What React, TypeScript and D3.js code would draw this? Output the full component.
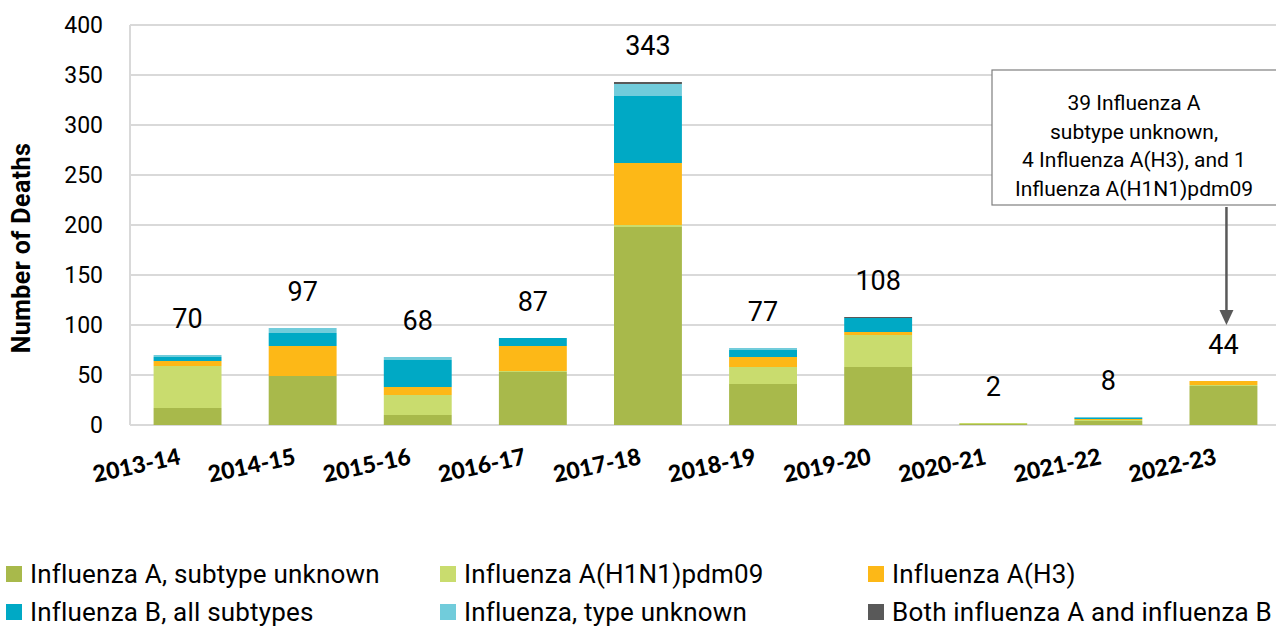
import { useEffect, useRef } from 'react';
import * as d3 from 'd3';

const seasons = ['2013-14', '2014-15', '2015-16', '2016-17', '2017-18', '2018-19', '2019-20', '2020-21', '2021-22', '2022-23'];
const aUnknown = [17, 49, 10, 53, 198, 41, 58, 1, 4, 39];
const h1n1 = [42, 0, 20, 1, 2, 17, 32, 1, 1, 1];
const h3 = [5, 30, 8, 25, 62, 10, 3, 0, 1, 4];
const fluB = [4, 13, 27, 8, 67, 7, 14, 0, 1, 0];
const typeUnknown = [2, 5, 3, 0, 12, 2, 0, 0, 1, 0];
const bothAB = [0, 0, 0, 0, 2, 0, 1, 0, 0, 0];
const totals = [70, 97, 68, 87, 343, 77, 108, 2, 8, 44];
const yTicks = [0, 50, 100, 150, 200, 250, 300, 350, 400];

const seriesNames = [
  'Influenza A, subtype unknown',
  'Influenza A(H1N1)pdm09',
  'Influenza A(H3)',
  'Influenza B, all subtypes',
  'Influenza, type unknown',
  'Both influenza A and influenza B',
];
const seriesColors = ['#A8B94B', '#C9DC6E', '#FDB817', '#00A9C5', '#71CCDB', '#595959'];
const noteLines = ['39 Influenza A', 'subtype unknown,', '4 Influenza A(H3), and 1', 'Influenza A(H1N1)pdm09'];

const font = 'Roboto, "Noto Sans", sans-serif';

const App = () => {
  const svgRef = useRef<SVGSVGElement>(null);

  useEffect(() => {
    const width = 1276;
    const height = 630;
    const svg = d3.select(svgRef.current);
    svg.selectAll('*').remove();
    svg.attr('width', width).attr('height', height);

    const x = d3.scaleBand<string>().domain(seasons).range([130, 1281]).paddingInner(0.41).paddingOuter(0.205);
    const y = d3.scaleLinear().domain([0, 400]).range([425, 25]);

    // gridlines
    svg.append('g')
      .selectAll('line')
      .data(yTicks)
      .enter().append('line')
      .attr('x1', 130).attr('x2', width)
      .attr('y1', d => y(d)).attr('y2', d => y(d))
      .attr('stroke', '#d9d9d9').attr('stroke-width', 2);
    svg.append('line')
      .attr('x1', 130).attr('x2', 130).attr('y1', y(400)).attr('y2', y(0))
      .attr('stroke', '#d9d9d9').attr('stroke-width', 2);

    // y tick labels
    svg.append('g')
      .selectAll('text')
      .data(yTicks)
      .enter().append('text')
      .attr('x', 103).attr('y', d => y(d))
      .attr('dy', '0.35em')
      .attr('text-anchor', 'end')
      .style('font-family', font).style('font-size', '23px').attr('fill', '#000')
      .text(d => d);

    svg.append('text')
      .attr('transform', `translate(30,${y(177)}) rotate(-90)`)
      .attr('text-anchor', 'middle')
      .style('font-family', font).style('font-size', '25px').style('font-weight', 700)
      .style('letter-spacing', '0.4px')
      .text('Number of Deaths');

    // stacked bars
    const allSeries = [aUnknown, h1n1, h3, fluB, typeUnknown, bothAB];
    const rows = seasons.map((s, i) => {
      const r: any = { season: s };
      allSeries.forEach((arr, k) => { r['s' + k] = arr[i]; });
      return r;
    });
    const stack = d3.stack().keys(allSeries.map((_, k) => 's' + k))(rows);

    svg.append('g')
      .selectAll('g')
      .data(stack)
      .enter().append('g')
      .attr('fill', (_, k) => seriesColors[k])
      .selectAll('rect')
      .data(d => d)
      .enter().append('rect')
      .attr('x', d => x(d.data.season as string)!)
      .attr('width', x.bandwidth())
      .attr('y', d => y(d[1]))
      .attr('height', d => y(d[0]) - y(d[1]));

    // totals
    svg.append('g')
      .selectAll('text')
      .data(totals)
      .enter().append('text')
      .attr('x', (_, i) => x(seasons[i])! + x.bandwidth() / 2)
      .attr('y', d => y(d) - 36)
      .attr('dy', '0.35em')
      .attr('text-anchor', 'middle')
      .style('font-family', font).style('font-size', '27px')
      .text(d => d);

    // x labels
    svg.append('g')
      .selectAll('text')
      .data(seasons)
      .enter().append('text')
      .attr('transform', d => `translate(${x(d)! + x.bandwidth() / 2 - 6},464) rotate(-12)`)
      .attr('text-anchor', 'end')
      .style('font-family', 'Lato, "Open Sans", sans-serif').style('font-size', '23px').style('font-weight', 900)
      .text(d => d);

    // annotation
    const last = seasons[seasons.length - 1];
    const ax = x(last)! + x.bandwidth() / 2 + 3;
    svg.append('rect')
      .attr('x', 992).attr('y', 70).attr('width', 290).attr('height', 135)
      .attr('fill', '#fff').attr('stroke', '#7f7f7f').attr('stroke-width', 1.2);
    svg.append('g')
      .selectAll('text')
      .data(noteLines)
      .enter().append('text')
      .attr('x', 1134).attr('y', (_, i) => 103 + i * 28.5)
      .attr('dy', '0.35em')
      .attr('text-anchor', 'middle')
      .style('font-family', font).style('font-size', '21px')
      .text(d => d);
    svg.append('line')
      .attr('x1', ax).attr('x2', ax).attr('y1', 207).attr('y2', 312)
      .attr('stroke', '#595959').attr('stroke-width', 2.5);
    svg.append('path')
      .attr('d', `M${ax - 7},310 L${ax + 7},310 L${ax},325 Z`)
      .attr('fill', '#595959');

    // legend
    const legend = svg.append('g')
      .selectAll('g')
      .data(seriesNames)
      .enter().append('g')
      .attr('transform', (_, i) => `translate(${[6, 440, 868][i % 3]},${i < 3 ? 574 : 612})`);
    legend.append('rect')
      .attr('x', 0).attr('y', -8).attr('width', 16).attr('height', 16)
      .attr('fill', (_, i) => seriesColors[i]);
    legend.append('text')
      .attr('x', 24).attr('y', 0).attr('dy', '0.35em')
      .style('font-family', font).style('font-size', '26px').style('letter-spacing', '0.2px')
      .text(d => d);
  }, []);

  return <svg ref={svgRef} style={{ position: 'absolute', left: 0, top: 0 }}></svg>;
};

export default App;
